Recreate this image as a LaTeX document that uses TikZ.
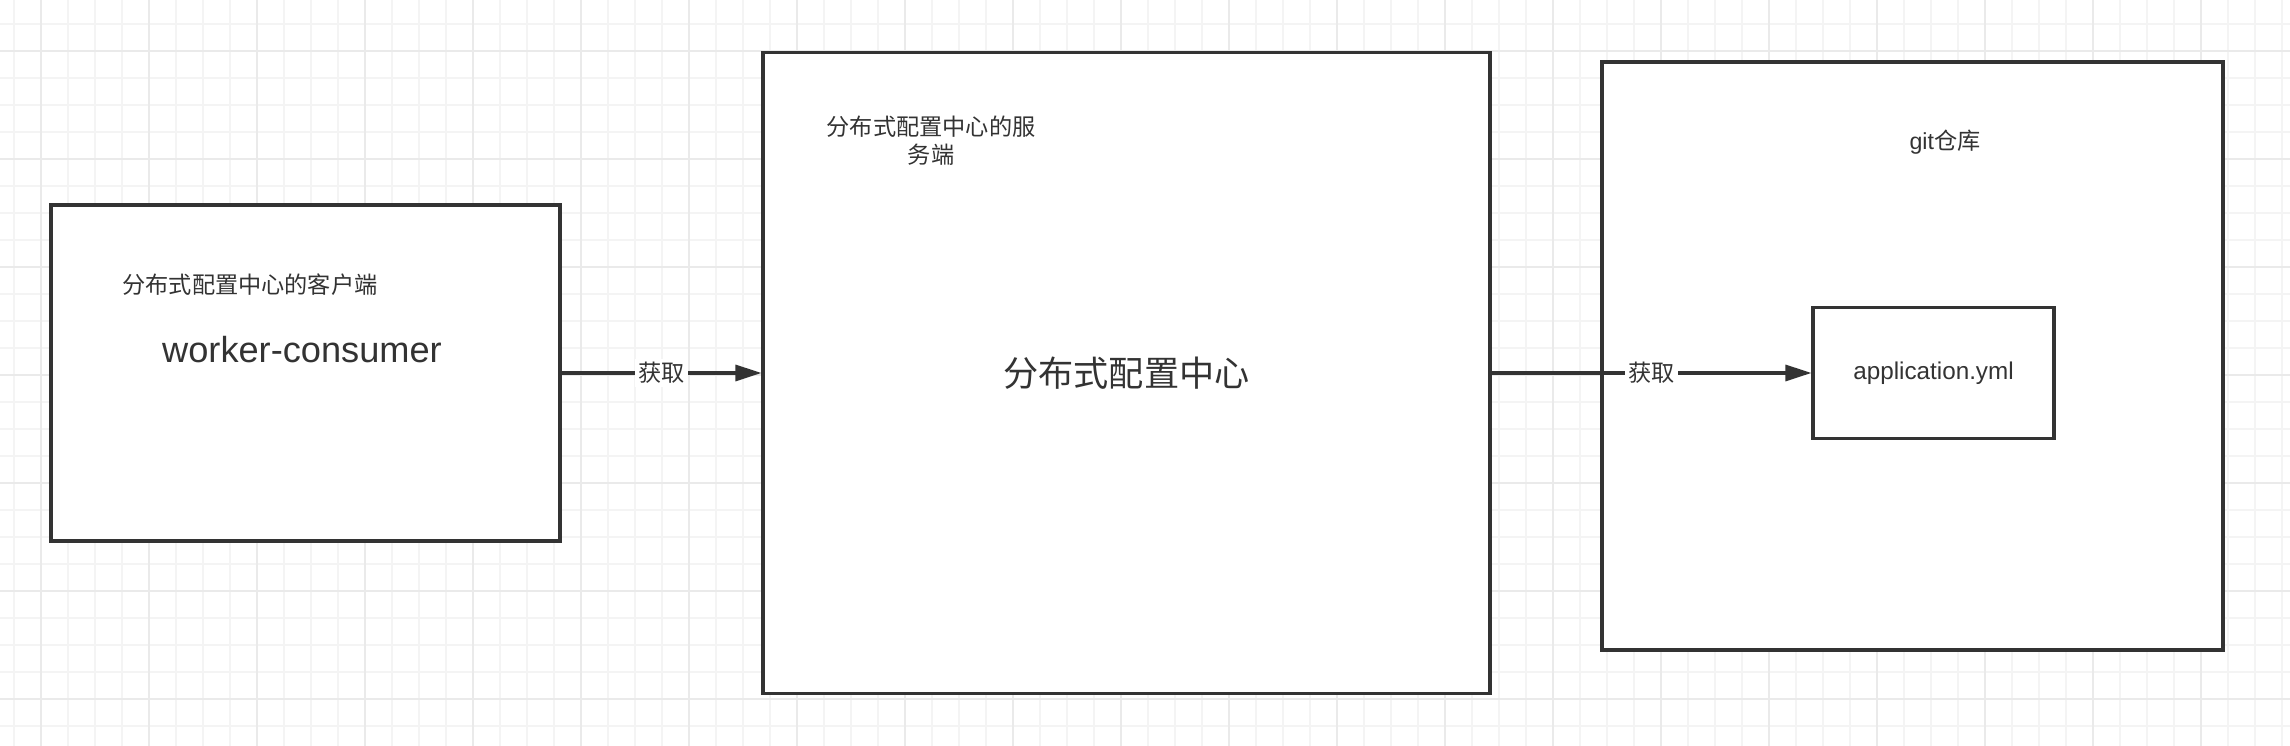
\documentclass[tikz,border=0pt]{standalone}
\usepackage{fontspec}
\setmainfont{Liberation Sans}
\newfontfamily\cjk{Noto Sans CJK SC}
\usepackage{xcolor}
\usetikzlibrary{arrows.meta}

\definecolor{inkgray}{HTML}{333333}
\definecolor{gridminor}{HTML}{F4F4F4}
\definecolor{gridmajor}{HTML}{EAEAEA}

\begin{document}
\begin{tikzpicture}[
    panel/.style={
        rectangle, draw=inkgray, fill=white, line width=0.9pt,
        inner sep=0pt, text=inkgray
    },
    arr/.style={-{Triangle[length=2.6mm,width=1.6mm]}, line width=0.9pt, inkgray},
    smalltext/.style={font=\cjk\fontsize{6.6}{7.9}\selectfont, text=inkgray,
        inner sep=0pt, align=center},
    bigtext/.style={font=\fontsize{10.3}{12}\selectfont, text=inkgray, inner sep=0pt},
    getlabel/.style={font=\cjk\fontsize{6.6}{7.9}\selectfont, text=inkgray,
        fill=white, inner sep=1pt}
]
    % Canvas and grid paper
    \useasboundingbox (0,0) rectangle (22.90,7.46);
    \fill[white] (0,0) rectangle (22.90,7.46);
    \begin{scope}
        \clip (0,0) rectangle (22.90,7.46);
        \draw[gridminor, line width=0.5pt, step=0.27, shift={(0.14,0.20)}] (-0.5,-0.5) grid (23,8);
        \draw[gridmajor, line width=0.65pt, step=1.08, shift={(0.41,0.47)}] (-1.5,-1.5) grid (23,8);
    \end{scope}

    % Boxes
    \node[panel, minimum width=5.09cm, minimum height=3.36cm] (client) at (3.055,3.73) {};
    \node[panel, minimum width=7.27cm, minimum height=6.41cm,
          font=\cjk\fontsize{10}{12}\selectfont] (server) at (11.265,3.73) {分布式配置中心};
    \node[panel, minimum width=6.21cm, minimum height=5.88cm] (repo) at (19.125,3.90) {};
    \node[panel, minimum width=2.41cm, minimum height=1.31cm,
          font=\fontsize{6.9}{8}\selectfont] (appyml) at (19.335,3.73) {application.yml};

    % Box labels
    \node[smalltext] (clientlabel) at (2.50,4.61) {分布式配置中心的客户端};
    \node[bigtext] (clientname) at (3.02,3.96) {worker-consumer};
    \node[smalltext] (serverlabel) at (9.31,6.05) {分布式配置中心的服\\务端};
    \node[smalltext] (repolabel) at (19.45,6.04) {{\rmfamily git}仓库};

    % Fetch edges
    \draw[arr] (client) -- node[getlabel] (fetchserver) {获取} (server);
    \draw[arr] (server) -- node[getlabel] (fetchrepo) {获取} (appyml);
\end{tikzpicture}
\end{document}
